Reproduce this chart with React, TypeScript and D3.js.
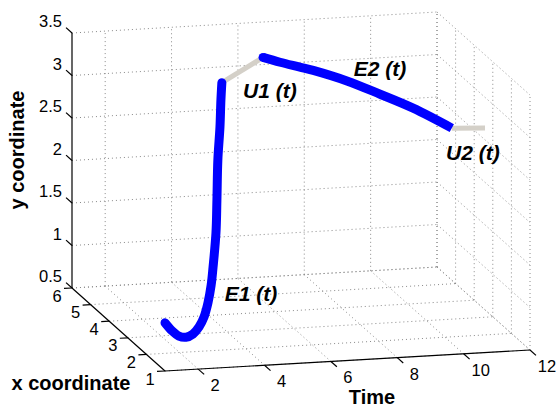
import React from 'react';
import * as d3 from 'd3';

// ---------- data ----------
const T_TICKS = [2, 4, 6, 8, 10, 12];
const XC_TICKS = [1, 2, 3, 4, 5, 6];
const Y_TICKS = [0.5, 1, 1.5, 2, 2.5, 3, 3.5];

const E1_T = [1.45, 1.72, 1.99, 2.26, 2.53, 2.78, 2.99, 3.17, 3.32, 3.44, 3.59, 3.68, 3.77, 3.89, 3.98, 4.07];
const E1_XC = [1.8, 1.91, 2.02, 2.12, 2.23, 2.34, 2.45, 2.56, 2.66, 2.77, 2.88, 2.99, 3.1, 3.2, 3.31, 3.42];
const E1_Y = [0.9, 0.78, 0.69, 0.65, 0.66, 0.72, 0.81, 0.95, 1.13, 1.32, 1.7, 2.06, 2.51, 2.88, 3.17, 3.35];

const U1_T = [4.07, 5.58];
const U1_XC = [3.42, 3.9];
const U1_Y = [3.35, 3.52];

const E2_T = [5.58, 6.07, 6.64, 7.02, 7.99, 8.94, 9.89, 11.0];
const E2_XC = [3.9, 3.86, 3.81, 3.77, 3.69, 3.6, 3.52, 3.42];
const E2_Y = [3.52, 3.46, 3.4, 3.36, 3.23, 3.07, 2.9, 2.66];

const U2_T = [11.0, 12.0];
const U2_XC = [3.42, 3.42];
const U2_Y = [2.66, 2.64];

// ---------- projection ----------
const W = 558;
const H = 407;
const ORIGIN = [72, 288];
const tSx = d3.scaleLinear().domain([1, 12]).range([0, 365]);
const tSy = d3.scaleLinear().domain([1, 12]).range([0, -21]);
const cSx = d3.scaleLinear().domain([6, 1]).range([0, 93]);
const cSy = d3.scaleLinear().domain([6, 1]).range([0, 83]);
const ySy = d3.scaleLinear().domain([0.5, 3.5]).range([0, -255]);

function proj(t: number, c: number, y: number): [number, number] {
  return [ORIGIN[0] + tSx(t) + cSx(c), ORIGIN[1] + tSy(t) + cSy(c) + ySy(y)];
}

const FONT = "'Liberation Sans', Arial, Helvetica, sans-serif";

function toPts(T: number[], C: number[], Y: number[]) {
  return T.map((t, i) => proj(t, C[i], Y[i]));
}

export default function App() {
  const T0 = 1, T1 = 12, C0 = 1, C1 = 6, Y0 = 0.5, Y1 = 3.5;

  const grid: [number, number, number][][] = [];
  // back wall (xc = 6)
  T_TICKS.forEach((t) => grid.push([[t, C1, Y0], [t, C1, Y1]]));
  Y_TICKS.forEach((y) => grid.push([[T0, C1, y], [T1, C1, y]]));
  // right wall (t = 12)
  XC_TICKS.forEach((c) => grid.push([[T1, c, Y0], [T1, c, Y1]]));
  Y_TICKS.forEach((y) => grid.push([[T1, C1, y], [T1, C0, y]]));
  // floor (y = 0.5)
  T_TICKS.forEach((t) => grid.push([[t, C1, Y0], [t, C0, Y0]]));
  XC_TICKS.forEach((c) => grid.push([[T0, c, Y0], [T1, c, Y0]]));

  const line = d3.line<[number, number]>().curve(d3.curveCatmullRom.alpha(0.5));
  const straight = d3.line<[number, number]>();

  const e1 = toPts(E1_T, E1_XC, E1_Y);
  const e2 = toPts(E2_T, E2_XC, E2_Y);
  const u1 = toPts(U1_T, U1_XC, U1_Y);
  const u2 = toPts(U2_T, U2_XC, U2_Y);

  const axisPath = (a: [number, number, number], b: [number, number, number]) =>
    straight([proj(...a), proj(...b)]) as string;

  const tickLen = 8;
  const dirC = (() => {
    const a = proj(1, 6, 0.5), b = proj(1, 5, 0.5);
    const dx = a[0] - b[0], dy = a[1] - b[1];
    const l = Math.hypot(dx, dy);
    return [dx / l, dy / l];
  })(); // towards +xc
  const dirT = (() => {
    const a = proj(1, 1, 0.5), b = proj(2, 1, 0.5);
    const dx = a[0] - b[0], dy = a[1] - b[1];
    const l = Math.hypot(dx, dy);
    return [dx / l, dy / l];
  })(); // towards -t

  const e1Label = e1[8];
  const u1Label = u1[0];
  const e2Label = e2[4];
  const u2Label = u2[0];

  return (
    <svg width={W} height={H} style={{ position: 'absolute', left: 0, top: 0, background: '#fff' }}
      fontFamily={FONT}>
      <rect x={0} y={0} width={W} height={H} fill="#fff" />
      {/* grid */}
      <g stroke="#8a8a8a" strokeWidth={1} strokeDasharray="1 3" fill="none">
        {grid.map((g, i) => (
          <path key={i} d={axisPath(g[0], g[1])} />
        ))}
      </g>
      {/* axes */}
      <g stroke="#000" strokeWidth={1.2} fill="none">
        <path d={axisPath([T0, C1, Y0], [T0, C1, Y1])} />
        <path d={axisPath([T0, C1, Y0], [T0, C0, Y0])} />
        <path d={axisPath([T0, C0, Y0], [T1, C0, Y0])} />
        {Y_TICKS.map((y) => {
          const p = proj(T0, C1, y);
          return <line key={'yt' + y} x1={p[0]} y1={p[1]} x2={p[0] + dirC[0] * tickLen} y2={p[1] + dirC[1] * tickLen} />;
        })}
        {XC_TICKS.map((c) => {
          const p = proj(T0, c, Y0);
          return <line key={'ct' + c} x1={p[0]} y1={p[1]} x2={p[0] + dirT[0] * tickLen} y2={p[1] + dirT[1] * tickLen} />;
        })}
        {T_TICKS.map((t) => {
          const p = proj(t, C0, Y0);
          return <line key={'tt' + t} x1={p[0]} y1={p[1]} x2={p[0] - dirC[0] * tickLen} y2={p[1] - dirC[1] * tickLen} />;
        })}
      </g>
      {/* tick labels */}
      <g fontSize={16.5} fill="#000">
        {Y_TICKS.map((y) => {
          const p = proj(T0, C1, y);
          return (
            <text key={'yl' + y} x={p[0] - 10} y={p[1] - 12} textAnchor="end" dominantBaseline="central">
              {String(y)}
            </text>
          );
        })}
        {XC_TICKS.map((c) => {
          const p = proj(T0, c, Y0);
          return (
            <text key={'cl' + c} x={p[0] - 15} y={p[1] + 7.5} textAnchor="middle" dominantBaseline="central">
              {String(c)}
            </text>
          );
        })}
        {T_TICKS.map((t) => {
          const p = proj(t, C0, Y0);
          return (
            <text key={'tl' + t} x={p[0] + 17} y={p[1] + 16} textAnchor="middle" dominantBaseline="central">
              {String(t)}
            </text>
          );
        })}
      </g>
      {/* axis labels */}
      <g fontSize={20} fontWeight="bold" fill="#000">
        <text transform="translate(24,150) rotate(-90)" textAnchor="middle">y coordinate</text>
        <text x={71} y={390} textAnchor="middle">x coordinate</text>
        <text x={372} y={404} textAnchor="middle">Time</text>
      </g>
      {/* data */}
      <g fill="none">
        <path d={straight(u1) as string} stroke="#d4d0c8" strokeWidth={5} />
        <path d={straight(u2) as string} stroke="#d4d0c8" strokeWidth={5} />
        <path d={line(e1) as string} stroke="#0000ff" strokeWidth={9} strokeLinecap="round" strokeLinejoin="round" />
        <path d={line(e2) as string} stroke="#0000ff" strokeWidth={9} strokeLinecap="butt" strokeLinejoin="round" />
        <circle cx={e2[0][0]} cy={e2[0][1]} r={4.5} fill="#0000ff" />
      </g>
      {/* annotations */}
      <g fontSize={21} fontWeight="bold" fontStyle="italic" fill="#000" textAnchor="middle" dominantBaseline="central">
        <text x={e1Label[0] + 40} y={e1Label[1] + 8}>E1 (t)</text>
        <text x={u1Label[0] + 48} y={u1Label[1] + 8}>U1 (t)</text>
        <text x={e2Label[0] + 33} y={e2Label[1] - 12}>E2 (t)</text>
        <text x={u2Label[0] + 21} y={u2Label[1] + 24}>U2 (t)</text>
      </g>
    </svg>
  );
}
